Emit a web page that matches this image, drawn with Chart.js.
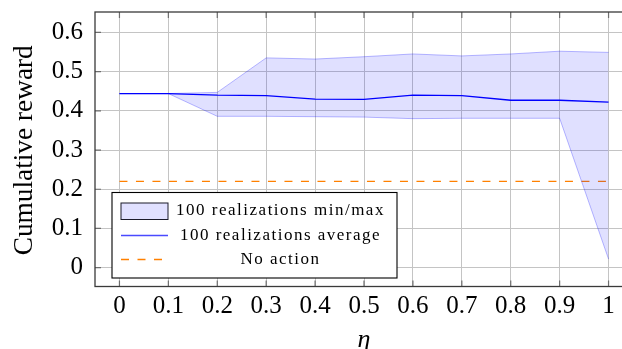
<!DOCTYPE html>
<html>
<head>
<meta charset="utf-8">
<script src="https://cdn.jsdelivr.net/npm/chart.js@4.4.1/dist/chart.umd.min.js"></script>
<style>
  html, body { margin: 0; padding: 0; background: #fff; overflow: hidden; }
  #wrap { width: 622px; height: 349px; overflow: hidden; }
</style>
</head>
<body>
<div id="wrap"><canvas id="chart" width="650" height="349"></canvas></div>
<script>
// eta sweep and cumulative reward over 100 realizations
const etaValues = [0, 0.1, 0.2, 0.3, 0.4, 0.5, 0.6, 0.7, 0.8, 0.9, 1];
const rewardMax = [0.444, 0.444, 0.447, 0.535, 0.532, 0.538, 0.545, 0.540, 0.545, 0.552, 0.549];
const rewardMin = [0.444, 0.444, 0.386, 0.386, 0.385, 0.384, 0.380, 0.381, 0.381, 0.381, 0.022];
const rewardAvg = [0.444, 0.444, 0.440, 0.439, 0.430, 0.429, 0.440, 0.439, 0.427, 0.427, 0.422];
const noActionValue = 0.22;

const xTicks = [0, 0.1, 0.2, 0.3, 0.4, 0.5, 0.6, 0.7, 0.8, 0.9, 1];
const yTicks = [0, 0.1, 0.2, 0.3, 0.4, 0.5, 0.6];
const legendLabels = ['100 realizations min/max', '100 realizations average', 'No action'];
const yTitle = 'Cumulative reward';

const fillColor = 'rgba(0, 0, 255, 0.12)';
const fillEdge = 'rgba(0, 0, 255, 0.28)';
const avgColor = '#0000ff';
const noActionColor = '#ff8000';
const serif = "'Liberation Serif', 'DejaVu Serif', serif";

const pts = arr => etaValues.map((x, i) => ({ x: x, y: arr[i] }));

// pgfplots-like frame, inner tick marks, y label and boxed legend
const framePlugin = {
  id: 'frameAndLegend',
  afterDraw(chart) {
    const ctx = chart.ctx;
    const ca = chart.chartArea;
    const xs = chart.scales.x, ys = chart.scales.y;
    ctx.save();
    ctx.strokeStyle = '#6e6e6e';
    ctx.lineWidth = 1.2;
    ctx.beginPath();
    xTicks.forEach(v => {
      const px = xs.getPixelForValue(v);
      ctx.moveTo(px, ca.bottom); ctx.lineTo(px, ca.bottom - 6);
      ctx.moveTo(px, ca.top); ctx.lineTo(px, ca.top + 6);
    });
    yTicks.forEach(v => {
      const py = ys.getPixelForValue(v);
      ctx.moveTo(ca.left, py); ctx.lineTo(ca.left + 6, py);
      ctx.moveTo(ca.right, py); ctx.lineTo(ca.right - 6, py);
    });
    ctx.stroke();

    ctx.strokeStyle = '#3a3a3a';
    ctx.lineWidth = 1.3;
    ctx.strokeRect(ca.left, ca.top, ca.right - ca.left, ca.bottom - ca.top);

    // rotated y-axis label
    ctx.save();
    ctx.translate(32, (ca.top + ca.bottom) / 2 + 1);
    ctx.rotate(-Math.PI / 2);
    ctx.fillStyle = '#000';
    ctx.font = '27.3px ' + serif;
    ctx.textAlign = 'center';
    ctx.textBaseline = 'alphabetic';
    ctx.fillText(yTitle, 0, 0);
    ctx.restore();

    // legend
    const lx = ca.left + 17, ly = ca.top + 180.5, lw = 285, lh = 85.5;
    ctx.fillStyle = '#fff';
    ctx.fillRect(lx, ly, lw, lh);
    ctx.strokeStyle = '#000';
    ctx.lineWidth = 1.1;
    ctx.strokeRect(lx, ly, lw, lh);

    const sx0 = lx + 9, sx1 = lx + 56;
    const rows = [ly + 18.5, ly + 43, ly + 67];
    ctx.fillStyle = fillColor;
    ctx.fillRect(sx0, rows[0] - 8, sx1 - sx0, 16.5);
    ctx.strokeStyle = '#1a1a2a';
    ctx.lineWidth = 1;
    ctx.strokeRect(sx0, rows[0] - 8, sx1 - sx0, 16.5);

    ctx.strokeStyle = '#4a4aff';
    ctx.lineWidth = 1.3;
    ctx.beginPath();
    ctx.moveTo(sx0, rows[1]); ctx.lineTo(sx1, rows[1]);
    ctx.stroke();

    ctx.strokeStyle = noActionColor;
    ctx.lineWidth = 1.3;
    ctx.setLineDash([8, 8.5]);
    ctx.beginPath();
    ctx.moveTo(sx0, rows[2]); ctx.lineTo(sx1, rows[2]);
    ctx.stroke();
    ctx.setLineDash([]);

    ctx.fillStyle = '#000';
    ctx.font = '17px ' + serif;
    ctx.letterSpacing = '1.5px';
    ctx.textAlign = 'center';
    ctx.textBaseline = 'middle';
    legendLabels.forEach((t, i) => ctx.fillText(t, lx + 168.5, rows[i]));
    ctx.restore();
  }
};

new Chart(document.getElementById('chart'), {
  type: 'line',
  data: {
    datasets: [
      {
        label: 'max',
        data: pts(rewardMax),
        borderColor: fillEdge,
        borderWidth: 1,
        backgroundColor: fillColor,
        fill: '+1',
        pointRadius: 0,
        tension: 0
      },
      {
        label: 'min',
        data: pts(rewardMin),
        borderColor: fillEdge,
        borderWidth: 1,
        backgroundColor: fillColor,
        fill: false,
        pointRadius: 0,
        tension: 0
      },
      {
        label: 'average',
        data: pts(rewardAvg),
        borderColor: avgColor,
        borderWidth: 1.3,
        fill: false,
        pointRadius: 0,
        tension: 0
      },
      {
        label: 'No action',
        data: [{ x: etaValues[0], y: noActionValue }, { x: etaValues[etaValues.length - 1], y: noActionValue }],
        borderColor: noActionColor,
        borderWidth: 1.3,
        borderDash: [8, 8.5],
        fill: false,
        pointRadius: 0
      }
    ]
  },
  options: {
    responsive: false,
    devicePixelRatio: 1,
    animation: false,
    layout: { padding: { left: 0, top: 12, right: 17, bottom: 0 } },
    plugins: { legend: { display: false }, tooltip: { enabled: false } },
    scales: {
      x: {
        type: 'linear',
        min: -0.05,
        max: 1.05,
        afterBuildTicks: s => { s.ticks = xTicks.map(v => ({ value: v })); },
        afterFit: s => { s.height = 62.5; s.paddingLeft = 0; s.paddingRight = 0; },
        grid: { color: '#c4c4c4', lineWidth: 1, tickLength: 0, drawTicks: false },
        border: { display: false },
        ticks: {
          color: '#000',
          padding: 5,
          maxRotation: 0,
          autoSkip: false,
          font: { family: serif, size: 25 },
          callback: v => String(Math.round(v * 10) / 10)
        },
        title: {
          display: true,
          text: 'η',
          color: '#000',
          padding: { top: 0, bottom: 1.5 },
          font: { family: serif, size: 26, style: 'italic', lineHeight: 0.6 }
        }
      },
      y: {
        type: 'linear',
        min: -0.048,
        max: 0.652,
        afterBuildTicks: s => { s.ticks = yTicks.map(v => ({ value: v })); },
        afterFit: s => { s.width = 95; s.paddingTop = 0; s.paddingBottom = 0; },
        grid: { color: '#c4c4c4', lineWidth: 1, tickLength: 0, drawTicks: false },
        border: { display: false },
        ticks: {
          color: '#000',
          padding: 12,
          font: { family: serif, size: 25 },
          callback: v => String(Math.round(v * 10) / 10)
        }
      }
    }
  },
  plugins: [framePlugin]
});
</script>
</body>
</html>
